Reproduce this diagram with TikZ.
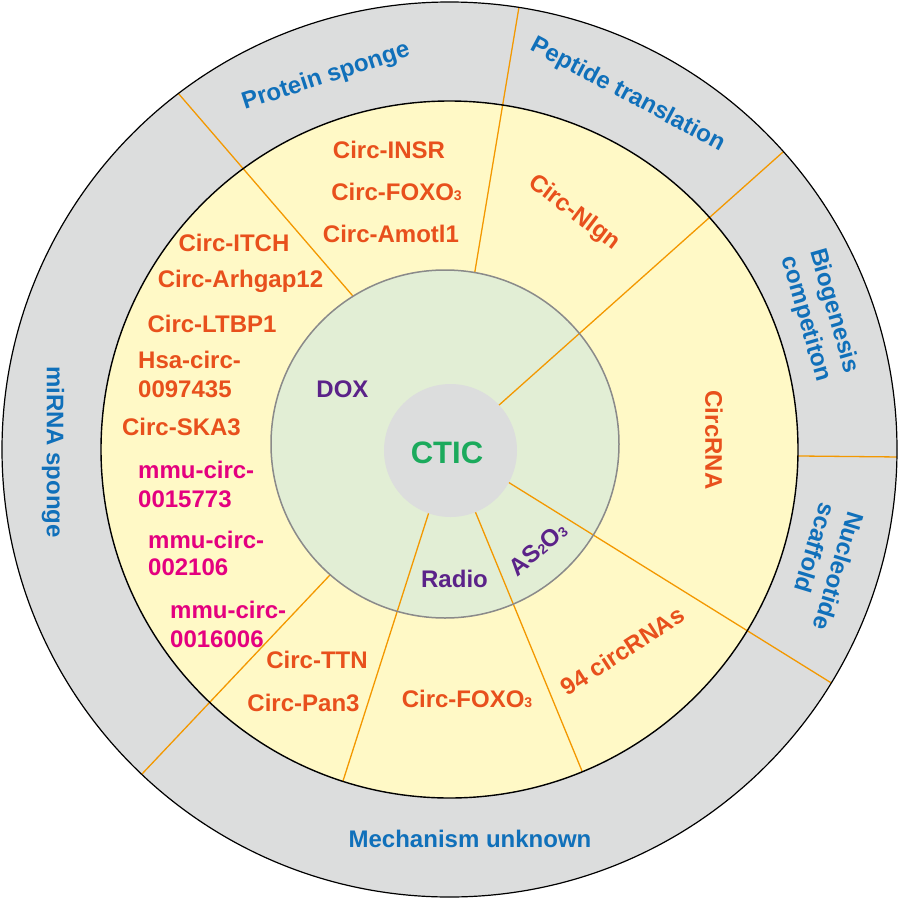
\documentclass[tikz,border=0pt]{standalone}
\usepackage{fontspec}
\setmainfont{Liberation Sans}
\definecolor{cgrey}{HTML}{DCDDDD}
\definecolor{cyellow}{HTML}{FFF9C6}
\definecolor{cgreen}{HTML}{E2EED5}
\definecolor{cline}{HTML}{F39800}
\definecolor{corange}{HTML}{E8501C}
\definecolor{cpink}{HTML}{E4007F}
\definecolor{cblue}{HTML}{1070BA}
\definecolor{cpurple}{HTML}{5B2289}
\definecolor{cctic}{HTML}{1BAA5C}
\definecolor{cgborder}{HTML}{8A8A8A}
\newcommand{\smallsub}[1]{{\fontsize{14}{14}\selectfont #1}}
\begin{document}
\begin{tikzpicture}[x=1pt,y=-1pt,
  lbl/.style={font=\fontsize{24}{29.5}\selectfont\bfseries, inner sep=0pt},
  outerlbl/.style={lbl, text=cblue},
  item/.style={lbl, text=corange},
  mmu/.style={lbl, text=cpink},
  drug/.style={lbl, text=cpurple},
  cticlbl/.style={font=\fontsize{31}{36}\selectfont\bfseries, inner sep=0pt, text=cctic},
  divider/.style={draw=cline, line width=1.3pt},
]
\useasboundingbox (0,0) rectangle (900,900);
\coordinate (O) at (449.5,449.5);
\coordinate (G) at (445,444);
\coordinate (C) at (450.5,450.5);
% dividers endpoints
\coordinate (l1a) at (143.2,52.6);  \coordinate (l1b) at (369.4,315.2);
\coordinate (l2a) at (523.4,-19.4); \coordinate (l2b) at (470.6,297.4);
\coordinate (l3a) at (811.5,126.6); \coordinate (l3b) at (469.5,431.4);
\coordinate (l4a) at (780,455.8);   \coordinate (l4b) at (910,457.1);
\coordinate (l5a) at (475.5,461.8); \coordinate (l5b) at (865.5,704.2);
\coordinate (l6a) at (464.3,485);   \coordinate (l6b) at (592.7,797);
\coordinate (l7a) at (437.6,485.1); \coordinate (l7b) at (334.4,807.9);
\coordinate (l8a) at (347.7,556.2); \coordinate (l8b) at (113.95,803.7);

\fill[cgrey] (O) circle (447.5);
\begin{scope}
  \clip (O) circle (447.5);
  \draw[divider] (l4a) -- (l4b);
\end{scope}
\fill[cyellow] (O) circle (348.5);
\begin{scope}
  \clip (O) circle (447.5);
  \draw[divider] (l1a) -- (l1b);
  \draw[divider] (l2a) -- (l2b);
  \draw[divider] (l8a) -- (l8b);
\end{scope}
\fill[cgreen] (G) circle (174);
\begin{scope}
  \clip (O) circle (447.5);
  \draw[divider] (l3a) -- (l3b);
  \draw[divider] (l5a) -- (l5b);
\end{scope}
\begin{scope}
  \clip (O) circle (348.5);
  \draw[divider] (l6a) -- (l6b);
  \draw[divider] (l7a) -- (l7b);
\end{scope}
\fill[cgrey] (C) circle (66.5);
\draw[black, line width=1.2pt] (O) circle (447.5);
\draw[black, line width=1.4pt] (O) circle (348.5);
\draw[cgborder, line width=1.5pt] (G) circle (174);

% outer ring labels
\node[outerlbl, rotate=18] (prot) at (326,77) {Protein sponge};
\node[outerlbl, rotate=-28] (pept) at (628,95) {Peptide translation};
\node[outerlbl, rotate=-74, align=center] (bio) at (819.5,315) {Biogenesis\\competiton};
\node[outerlbl, rotate=-107, align=left] (nuc) at (825,567) {Nucleotide\\scaffold};
\node[outerlbl, rotate=-90] (mir) at (53,452) {miRNA sponge};
\node[outerlbl, anchor=base] (mech) at (470,847) {Mechanism unknown};

% yellow ring items
\node[item, anchor=base] (insr) at (389,158) {Circ-INSR};
\node[item, anchor=base] (foxoa) at (396.5,200) {Circ-FOXO\smallsub{3}};
\node[item, anchor=base] (amotl) at (391,242) {Circ-Amotl1};
\node[item, anchor=base] (itch) at (234,251) {Circ-ITCH};
\node[item, anchor=base] (arh) at (240.5,287) {Circ-Arhgap12};
\node[item, anchor=base] (ltbp) at (212,332) {Circ-LTBP1};
\node[item, anchor=base west] (hsaa) at (138,368) {Hsa-circ-};
\node[item, anchor=base west] (hsab) at (138,397) {0097435};
\node[item, anchor=base] (ska) at (181.5,435) {Circ-SKA3};
\node[mmu, anchor=base west] (mmua) at (138,478) {mmu-circ-};
\node[mmu, anchor=base west] (mmub) at (138,507) {0015773};
\node[mmu, anchor=base west] (mmuc) at (148,548) {mmu-circ-};
\node[mmu, anchor=base west] (mmud) at (148,575) {002106};
\node[mmu, anchor=base west] (mmue) at (170,618) {mmu-circ-};
\node[mmu, anchor=base west] (mmuf) at (170,647) {0016006};
\node[item, anchor=base] (ttn) at (317,668) {Circ-TTN};
\node[item, anchor=base] (pan) at (303.5,711) {Circ-Pan3};
\node[item, anchor=base] (foxob) at (467,707) {Circ-FOXO\smallsub{3}};
\node[item, rotate=33] (n94) at (622.5,651) {94 circRNAs};
\node[item, rotate=-37] (nlgn) at (574,213) {Circ-Nlgn};
\node[item, rotate=-90] (circrna) at (714,440) {CircRNA};

% green ring
\node[drug, anchor=base] (dox) at (342.5,397) {DOX};
\node[drug, anchor=base] (radio) at (454.5,587) {Radio};
\node[drug, rotate=40] (as) at (538,549) {AS\smallsub{2}O\smallsub{3}};

% center
\node[cticlbl, anchor=base] (ctic) at (447,463) {CTIC};
\end{tikzpicture}
\end{document}
